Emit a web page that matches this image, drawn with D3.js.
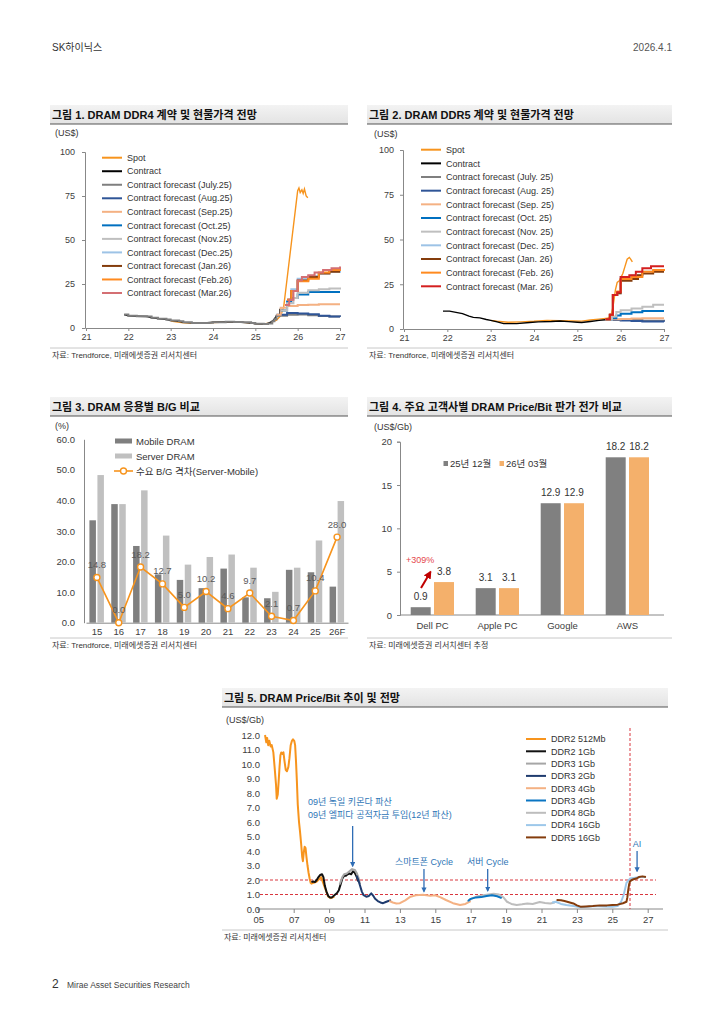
<!DOCTYPE html>
<html>
<head>
<meta charset="utf-8">
<script src="https://cdn.jsdelivr.net/npm/d3@7"></script>
<style>
  body { margin: 0; background: #fff; }
  text { font-family: "Liberation Sans", "Noto Sans CJK KR", sans-serif; }
</style>
</head>
<body>
<svg id="page" width="724" height="1024"></svg>
<script>
// ---------- data: chart 1 / 2 (DDR4, DDR5 price, US$) ----------
const yearTicks = [21, 22, 23, 24, 25, 26, 27];
const priceTicks = [0, 25, 50, 75, 100];

const ddr4Hist = [[21.9,7.6],[22.0,6.9],[22.2,6.7],[22.45,6.5],[22.55,5.8],[22.7,5.3],[22.9,4.8],[23.0,4.3],[23.2,3.8],[23.3,3.2],[23.5,2.9],[23.9,3.0],[24.0,3.3],[24.3,3.5],[24.5,3.4],[24.7,3.2],[24.9,2.8],[25.0,2.4],[25.2,2.3],[25.3,2.6],[25.4,3.8],[25.45,5.0],[25.5,7.0]];
const ddr4ContractEnd = [[25.58,7.2],[25.58,11]];
const ddr4Spot = [[23.0,3.9],[23.3,2.9],[23.8,2.7],[24.0,3.1],[24.5,3.5],[24.9,2.9],[25.0,2.5],[25.2,2.3],[25.35,2.9],[25.5,4.5],[25.6,7],[25.67,12],[25.75,28],[25.85,48],[25.95,68],[26.0,78],[26.03,79.5],[26.06,77],[26.1,78.5],[26.13,76.5],[26.16,79],[26.2,75],[26.24,74]];
const ddr4Jul = [[25.5,7.0],[25.75,7.5],[26.0,7.6],[26.25,7.3],[26.5,6.8],[26.75,6.6],[27.0,6.5]];
const ddr4Aug = [[25.5,7.5],[25.75,8.5],[26.0,8.2],[26.25,7.8],[26.5,7.0],[26.75,6.6],[27.0,6.4]];
const ddr4Sep = [[25.5,7.5],[25.6,11.5],[25.75,12.5],[26.0,13.0],[26.25,13.2],[26.5,13.5],[27.0,13.5]];
const ddr4Oct = [[25.6,10],[25.75,15],[25.85,17],[26.0,19],[26.25,20.5],[26.5,20.5],[27.0,20.5]];
const ddr4Nov = [[25.6,10],[25.75,14],[25.9,17],[26.0,20],[26.25,21.5],[26.5,22],[26.75,22.5],[27.0,23]];
const ddr4Dec = [[25.75,16],[25.85,22],[26.0,28],[26.25,29.5],[26.5,31],[26.75,32],[27.0,32.5]];
const ddr4Jan = [[25.75,16],[25.85,21],[26.0,27],[26.25,29],[26.5,31],[26.75,32],[27.0,32]];
const ddr4Feb = [[25.75,16],[25.85,21],[26.0,26.5],[26.25,28],[26.5,31.5],[26.75,33],[27.0,34]];
const ddr4Mar = [[25.7,13],[25.8,16],[25.9,21],[26.0,27],[26.1,29],[26.25,30],[26.4,31.5],[26.6,33],[26.8,34],[27.0,35]];
const ddr4Labels = ['Spot','Contract','Contract forecast (July.25)','Contract forecast (Aug.25)','Contract forecast (Sep.25)','Contract forecast (Oct.25)','Contract forecast (Nov.25)','Contract forecast (Dec.25)','Contract forecast (Jan.26)','Contract forecast (Feb.26)','Contract forecast (Mar.26)'];

const ddr5Hist = [[21.9,10],[22.05,10],[22.2,9.3],[22.35,8.6],[22.5,7.2],[22.6,6.5],[22.75,6.2],[22.9,5.3],[23.0,4.8],[23.15,4.0],[23.3,3.0],[23.6,3.0],[23.9,3.6],[24.1,4.0],[24.4,4.2],[24.6,4.5],[24.8,4.1],[25.0,3.8],[25.1,3.6],[25.3,4.2],[25.5,4.8],[25.65,5.2]];
const ddr5Spot = [[23.0,4.8],[23.15,4.3],[23.4,3.8],[23.7,4.0],[24.0,4.3],[24.3,4.8],[24.6,4.7],[24.9,4.5],[25.1,4.4],[25.3,5.0],[25.5,5.5],[25.7,6.0],[25.77,7],[25.82,12],[25.88,22],[25.92,26],[25.97,27],[26.0,28.5],[26.05,31],[26.1,35],[26.15,39],[26.2,40],[26.23,39],[26.27,37.5]];
const ddr5Jul = [[25.65,5.2],[25.75,5.0],[26.0,5.0],[26.5,4.6],[27.0,4.5]];
const ddr5Aug = [[25.65,5.2],[26.0,4.8],[26.25,4.5],[26.5,4.2],[27.0,4.0]];
const ddr5Sep = [[25.65,5.2],[25.75,5.5],[26.0,5.6],[26.25,5.8],[26.5,6.0],[27.0,6.0]];
const ddr5Oct = [[25.65,5.2],[25.8,6],[25.9,7.5],[26.0,8.5],[26.25,9.3],[26.5,10],[27.0,10]];
const ddr5Nov = [[25.65,5.2],[25.8,7],[25.9,9.5],[26.0,10.5],[26.25,11.5],[26.5,12.5],[26.75,13.5],[27.0,13.5]];
const ddr5Dec = [[25.65,5.5],[25.75,8],[25.82,19],[25.92,20],[26.0,29],[26.25,30],[26.5,32],[26.75,33],[27.0,33]];
const ddr5Jan = [[25.65,5.5],[25.75,8],[25.82,19],[25.92,20],[26.0,27],[26.25,28],[26.4,30],[26.5,31],[26.75,32],[27.0,32]];
const ddr5Feb = [[25.65,5.5],[25.75,8],[25.82,19],[25.92,21],[26.0,28],[26.25,29],[26.5,32],[26.75,33],[27.0,33.5]];
const ddr5Mar = [[25.65,5.5],[25.75,8],[25.82,19],[25.92,20.5],[26.0,29],[26.2,30],[26.35,32],[26.5,34],[26.7,35],[27.0,35]];
const ddr5Labels = ['Spot','Contract','Contract forecast (July. 25)','Contract forecast (Aug. 25)','Contract forecast (Sep. 25)','Contract forecast (Oct. 25)','Contract forecast (Nov. 25)','Contract forecast (Dec. 25)','Contract forecast (Jan. 26)','Contract forecast (Feb. 26)','Contract forecast (Mar. 26)'];

// ---------- data: chart 3 (B/G %) ----------
const bgYears = ['15','16','17','18','19','20','21','22','23','24','25','26F'];
const bgMobile = [33.5, 38.8, 25.1, 15.8, 14.0, 11.3, 17.7, 8.3, 8.0, 17.3, 16.5, 11.8];
const bgServer = [48.3, 38.8, 43.3, 28.5, 19.0, 21.5, 22.3, 18.0, 10.1, 18.0, 26.9, 39.8];
const bgGap = [14.8, 0.0, 18.2, 12.7, 5.0, 10.2, 4.6, 9.7, 2.1, 0.7, 10.4, 28.0];
const bgTicks = [0, 10, 20, 30, 40, 50, 60];

// ---------- data: chart 4 (price/bit by customer) ----------
const custNames = ['Dell PC', 'Apple PC', 'Google', 'AWS'];
const custDec25 = [0.9, 3.1, 12.9, 18.2];
const custMar26 = [3.8, 3.1, 12.9, 18.2];
const custTicks = [0, 5, 10, 15, 20];

// ---------- data: chart 5 (price/bit history) ----------
const pbTicksY = [0,1,2,3,4,5,6,7,8,9,10,11,12];
const pbTicksX = [5,7,9,11,13,15,17,19,21,23,25,27];
const ddr2_512 = [[5.38,12.0],[5.45,11.5],[5.5,11.8],[5.56,11.3],[5.62,11.6],[5.7,11.2],[5.76,11.3],[5.85,10.8],[5.92,9.8],[6.0,8.6],[6.04,7.6],[6.1,7.9],[6.15,8.8],[6.2,9.8],[6.25,10.6],[6.3,10.8],[6.36,10.7],[6.42,10.8],[6.48,10.2],[6.55,9.6],[6.62,9.5],[6.7,9.8],[6.76,10.4],[6.83,11.3],[6.9,11.6],[6.96,11.7],[7.03,11.6],[7.08,11.3],[7.13,10.2],[7.18,8.8],[7.23,7.2],[7.3,6.0],[7.36,5.3],[7.42,4.5],[7.48,3.6],[7.52,3.3],[7.57,3.9],[7.62,4.3],[7.67,4.2],[7.72,3.6],[7.78,3.0],[7.84,2.5],[7.9,2.1],[7.96,1.8],[8.0,1.75],[8.3,1.9],[8.55,2.2],[8.75,1.5],[8.95,0.85],[9.1,0.75],[9.3,0.85]];
const ddr2_1g = [[8.0,1.85],[8.1,1.9],[8.2,1.85],[8.3,2.0],[8.4,2.2],[8.5,2.35],[8.6,2.4],[8.68,2.2],[8.76,1.6],[8.85,1.2],[8.95,0.9],[9.05,0.8],[9.15,0.8],[9.3,0.95],[9.45,1.1],[9.55,1.3],[9.65,1.7],[9.75,2.1],[9.85,2.3],[9.95,2.3],[10.05,2.4],[10.15,2.45],[10.25,2.4],[10.35,2.6],[10.45,2.5],[10.55,2.25],[10.65,1.9]];
const ddr3_1g = [[9.6,1.7],[9.75,2.2],[9.85,2.4],[10.0,2.45],[10.15,2.6],[10.3,2.75],[10.45,2.7],[10.55,2.5],[10.65,2.2],[10.75,1.7]];
const ddr3_2g = [[10.55,2.3],[10.65,2.0],[10.75,1.6],[10.85,1.2],[10.95,0.95],[11.1,0.85],[11.25,0.9],[11.38,1.08],[11.5,0.9],[11.6,0.7],[11.75,0.55],[11.9,0.45],[12.05,0.4],[12.2,0.48],[12.35,0.55],[12.5,0.6]];
const ddr3_4g_a = [[12.4,0.55],[12.6,0.45],[12.8,0.38],[13.0,0.4],[13.3,0.6],[13.6,0.85],[13.9,0.95],[14.3,0.98],[14.7,0.92],[15.0,0.95],[15.3,0.8],[15.6,0.62],[16.0,0.4],[16.4,0.28],[16.7,0.35],[17.0,0.55]];
const ddr3_4g_b = [[16.85,0.55],[17.0,0.7],[17.3,0.8],[17.6,0.82],[17.9,0.9],[18.2,0.95],[18.5,0.88],[18.75,0.75]];
const ddr4_8g = [[16.8,0.5],[17.1,0.75],[17.4,0.88],[17.7,0.95],[18.0,1.0],[18.3,1.05],[18.6,1.0],[18.85,0.8],[19.05,0.5],[19.3,0.35],[19.6,0.28],[19.9,0.32],[20.2,0.38],[20.5,0.35],[20.9,0.48],[21.2,0.42],[21.5,0.38],[21.75,0.45]];
const ddr4_16g = [[21.6,0.45],[21.8,0.5],[22.1,0.35],[22.4,0.28],[22.8,0.2],[23.2,0.12],[23.6,0.15],[24.0,0.2],[24.5,0.18],[25.0,0.16],[25.3,0.2],[25.5,0.5],[25.65,1.0],[25.8,1.8],[26.0,2.1],[26.3,2.15],[26.6,2.2],[26.9,2.2]];
const ddr5_16g = [[21.85,0.62],[22.1,0.6],[22.3,0.55],[22.6,0.45],[22.8,0.38],[23.0,0.25],[23.2,0.16],[23.5,0.18],[23.9,0.2],[24.3,0.25],[24.7,0.25],[25.0,0.28],[25.3,0.3],[25.6,0.4],[25.8,0.5],[25.85,0.8],[25.9,1.3],[25.95,1.7],[26.0,1.9],[26.1,2.0],[26.2,2.05],[26.35,2.1],[26.5,2.2],[26.7,2.25],[26.9,2.2]];
const pbLabels = ['DDR2 512Mb','DDR2 1Gb','DDR3 1Gb','DDR3 2Gb','DDR3 4Gb','DDR3 4Gb','DDR4 8Gb','DDR4 16Gb','DDR5 16Gb'];
const pbRefLines = [1, 2];
const pbAiYear = 26;

// ---------- page ----------
const svg = d3.select('#page');
svg.append('rect').attr('width', 724).attr('height', 1024).attr('fill', '#fff');

const defs = svg.append('defs');
const grad = defs.append('linearGradient').attr('id', 'tbar').attr('x1', 0).attr('y1', 0).attr('x2', 0).attr('y2', 1);
grad.append('stop').attr('offset', '0%').attr('stop-color', '#f3f3f3');
grad.append('stop').attr('offset', '100%').attr('stop-color', '#e3e3e3');

function arrowMarker(id, color) {
  defs.append('marker').attr('id', id).attr('viewBox', '0 0 10 10').attr('refX', 8).attr('refY', 5)
    .attr('markerWidth', 4).attr('markerHeight', 4).attr('orient', 'auto')
    .append('path').attr('d', 'M0,0L10,5L0,10z').attr('fill', color);
}
arrowMarker('arrRed', '#c00000');
arrowMarker('arrBlue', '#2f6db5');

// header / footer
svg.append('text').attr('x', 52).attr('y', 51).attr('font-size', 10).attr('fill', '#333').text('SK하이닉스');
svg.append('text').attr('x', 672).attr('y', 51).attr('font-size', 10).attr('fill', '#555').attr('text-anchor', 'end').text('2026.4.1');
svg.append('text').attr('x', 52).attr('y', 988).attr('font-size', 12).attr('fill', '#333').text('2');
svg.append('text').attr('x', 67).attr('y', 988).attr('font-size', 8.5).attr('fill', '#444').text('Mirae Asset Securities Research');

function titleBar(x, y, w, label) {
  svg.append('rect').attr('x', x).attr('y', y).attr('width', w).attr('height', 19).attr('fill', 'url(#tbar)');
  svg.append('line').attr('x1', x).attr('x2', x + w).attr('y1', y + 19).attr('y2', y + 19)
    .attr('stroke', '#555').attr('stroke-width', 1.2);
  svg.append('text').attr('x', x + 2).attr('y', y + 14).attr('font-size', 11).attr('font-weight', 'bold')
    .attr('fill', '#111').text(label);
}

function sourceNote(x, y, w, label) {
  svg.append('line').attr('x1', x).attr('x2', x + w).attr('y1', y).attr('y2', y).attr('stroke', '#c8c8c8');
  svg.append('text').attr('x', x + 2).attr('y', y + 10).attr('font-size', 8).attr('fill', '#333').text(label);
}

function styleAxis(g, size) {
  g.select('.domain').attr('stroke', '#888');
  g.selectAll('.tick line').attr('stroke', '#888');
  g.selectAll('.tick text').attr('fill', '#404040').attr('font-size', size || 9)
    .style('font-family', '"Liberation Sans","Noto Sans CJK KR",sans-serif');
}

// ---------- charts 1 & 2 ----------
const fcstColors = ['#f7941d', '#000000', '#7f7f7f', '#2f5597', '#f4b183', '#0070c0', '#bfbfbf', '#9dc3e6', '#843c0c', '#ff8a1f'];

function priceChart(cfg) {
  const x = d3.scaleLinear().domain([21, 27]).range(cfg.xr);
  const y = d3.scaleLinear().domain([0, 100]).range(cfg.yr);

  const ax = svg.append('g').attr('transform', `translate(0,${cfg.yr[0]})`)
    .call(d3.axisBottom(x).tickValues(yearTicks).tickSize(3).tickPadding(3).tickFormat(d => d));
  styleAxis(ax);
  const ay = svg.append('g').attr('transform', `translate(${cfg.xr[0] - 1},0)`)
    .call(d3.axisLeft(y).tickValues(priceTicks).tickSize(3).tickPadding(cfg.pad));
  styleAxis(ay);

  svg.append('text').attr('x', cfg.unitX).attr('y', cfg.unitY).attr('font-size', 9).attr('fill', '#333').text('(US$)');

  const colors = fcstColors.concat([cfg.marColor]);
  cfg.series.forEach((s, i) => {
    const curve = i < 2 ? d3.curveLinear : d3.curveStepAfter;
    svg.append('path').datum(s)
      .attr('fill', 'none').attr('stroke', colors[i])
      .attr('stroke-width', i < 2 ? 1.4 : 2)
      .attr('d', d3.line().curve(curve).x(d => x(d[0])).y(d => y(d[1])));
  });

  cfg.labels.forEach((lab, i) => {
    const yy = cfg.legY + i * cfg.legStep;
    svg.append('line').attr('x1', cfg.legX).attr('x2', cfg.legX + 20).attr('y1', yy).attr('y2', yy)
      .attr('stroke', colors[i]).attr('stroke-width', 2);
    svg.append('text').attr('x', cfg.legX + 25).attr('y', yy + 3.2).attr('font-size', 9).attr('fill', '#333').text(lab);
  });
}

titleBar(50, 105, 298, '그림 1. DRAM DDR4 계약 및 현물가격 전망');
priceChart({
  xr: [86, 340], yr: [328, 152], pad: 7, unitX: 55, unitY: 136,
  legX: 102, legY: 157.7, legStep: 13.53, marColor: '#d46f73',
  labels: ddr4Labels,
  series: [ddr4Spot, ddr4Hist.concat(ddr4ContractEnd), ddr4Hist.concat(ddr4Jul), ddr4Aug, ddr4Sep, ddr4Oct, ddr4Nov, ddr4Dec, ddr4Jan, ddr4Feb, ddr4Mar]
});
sourceNote(50, 348, 298, '자료: Trendforce, 미래에셋증권 리서치센터');

titleBar(367, 105, 305, '그림 2. DRAM DDR5 계약 및 현물가격 전망');
priceChart({
  xr: [404, 664], yr: [329, 150], pad: 6, unitX: 374, unitY: 137,
  legX: 421, legY: 149.7, legStep: 13.66, marColor: '#d41f1f',
  labels: ddr5Labels,
  series: [ddr5Spot, ddr5Hist, ddr5Jul, ddr5Aug, ddr5Sep, ddr5Oct, ddr5Nov, ddr5Dec, ddr5Jan, ddr5Feb, ddr5Mar]
});
sourceNote(367, 348, 305, '자료: Trendforce, 미래에셋증권 리서치센터');

// ---------- chart 3 ----------
titleBar(50, 397, 298, '그림 3. DRAM 응용별 B/G 비교');
{
  const x = d3.scaleBand().domain(bgYears).range([86, 348]);
  const y = d3.scaleLinear().domain([0, 60]).range([622.7, 439.3]);
  const ax = svg.append('g').attr('transform', 'translate(0,622.7)')
    .call(d3.axisBottom(x).tickSize(0).tickPadding(6));
  styleAxis(ax, 9.5);
  const ay = svg.append('g').attr('transform', 'translate(84,0)')
    .call(d3.axisLeft(y).tickValues(bgTicks).tickSize(0).tickPadding(9).tickFormat(d3.format('.1f')));
  styleAxis(ay, 9.5);
  svg.append('text').attr('x', 55).attr('y', 428.5).attr('font-size', 9).attr('fill', '#333').text('(%)');

  const cx = d => x(d) + x.bandwidth() / 2;
  svg.append('g').selectAll('rect').data(bgYears).join('rect')
    .attr('x', d => cx(d) - 7.5).attr('width', 6.5)
    .attr('y', (d, i) => y(bgMobile[i])).attr('height', (d, i) => y(0) - y(bgMobile[i]))
    .attr('fill', '#7f7f7f');
  svg.append('g').selectAll('rect').data(bgYears).join('rect')
    .attr('x', d => cx(d) + 0.5).attr('width', 6.5)
    .attr('y', (d, i) => y(bgServer[i])).attr('height', (d, i) => y(0) - y(bgServer[i]))
    .attr('fill', '#c0c0c0');

  svg.append('path').datum(bgYears)
    .attr('fill', 'none').attr('stroke', '#f7941d').attr('stroke-width', 1.6)
    .attr('d', d3.line().x(d => cx(d)).y((d, i) => y(bgGap[i])));
  svg.append('g').selectAll('circle').data(bgYears).join('circle')
    .attr('cx', d => cx(d)).attr('cy', (d, i) => y(bgGap[i])).attr('r', 3)
    .attr('fill', '#fff').attr('stroke', '#f7941d').attr('stroke-width', 1.4);
  svg.append('g').selectAll('text').data(bgYears).join('text')
    .attr('x', d => cx(d)).attr('y', (d, i) => y(bgGap[i]) - 9.5)
    .attr('text-anchor', 'middle').attr('font-size', 9.5).attr('fill', '#595959')
    .text((d, i) => bgGap[i].toFixed(1));

  // legend
  const leg = [['Mobile DRAM', '#7f7f7f'], ['Server DRAM', '#c0c0c0']];
  leg.forEach((l, i) => {
    svg.append('rect').attr('x', 115).attr('y', 438.5 + i * 15).attr('width', 17).attr('height', 5).attr('fill', l[1]);
    svg.append('text').attr('x', 136).attr('y', 444.5 + i * 15).attr('font-size', 9.5).attr('fill', '#333').text(l[0]);
  });
  svg.append('line').attr('x1', 114).attr('x2', 133).attr('y1', 471).attr('y2', 471).attr('stroke', '#f7941d').attr('stroke-width', 1.6);
  svg.append('circle').attr('cx', 123.5).attr('cy', 471).attr('r', 3).attr('fill', '#fff').attr('stroke', '#f7941d').attr('stroke-width', 1.4);
  svg.append('text').attr('x', 136).attr('y', 474.5).attr('font-size', 9.5).attr('fill', '#333').text('수요 B/G 격차(Server-Mobile)');
}
sourceNote(50, 638, 298, '자료: Trendforce, 미래에셋증권 리서치센터');

// ---------- chart 4 ----------
titleBar(367, 397, 305, '그림 4. 주요 고객사별 DRAM Price/Bit 판가 전가 비교');
{
  const x = d3.scaleBand().domain(custNames).range([400, 660]);
  const y = d3.scaleLinear().domain([0, 20]).range([615, 441.7]);
  const ax = svg.append('g').attr('transform', 'translate(0,615)')
    .call(d3.axisBottom(x).tickSize(0).tickPadding(7));
  ax.select('.domain').attr('d', 'M0,0H663');
  styleAxis(ax, 9.5);
  ax.select('.domain').attr('d', 'M400,0H664');
  const ay = svg.append('g').attr('transform', 'translate(400,0)')
    .call(d3.axisLeft(y).tickValues(custTicks).tickSize(3).tickPadding(5));
  styleAxis(ay, 9.5);
  svg.append('text').attr('x', 374).attr('y', 430).attr('font-size', 9).attr('fill', '#333').text('(US$/Gb)');

  const cx = d => x(d) + x.bandwidth() / 2;
  const groups = [[custDec25, '#808080', -21.8], [custMar26, '#f4b06b', 1.5]];
  groups.forEach(([vals, col, off]) => {
    svg.append('g').selectAll('rect').data(custNames).join('rect')
      .attr('x', d => cx(d) + off).attr('width', 20)
      .attr('y', (d, i) => y(vals[i])).attr('height', (d, i) => y(0) - y(vals[i]))
      .attr('fill', col);
    svg.append('g').selectAll('text').data(custNames).join('text')
      .attr('x', d => cx(d) + off + 10).attr('y', (d, i) => y(vals[i]) - 7)
      .attr('text-anchor', 'middle').attr('font-size', 10).attr('fill', '#333')
      .text((d, i) => vals[i].toFixed(1));
  });

  svg.append('rect').attr('x', 443.5).attr('y', 461).attr('width', 4.5).attr('height', 5).attr('fill', '#808080');
  svg.append('text').attr('x', 450).attr('y', 467).attr('font-size', 9.5).attr('fill', '#333').text('25년 12월');
  svg.append('rect').attr('x', 499.5).attr('y', 461).attr('width', 4.5).attr('height', 5).attr('fill', '#f4b06b');
  svg.append('text').attr('x', 506).attr('y', 467).attr('font-size', 9.5).attr('fill', '#333').text('26년 03월');

  svg.append('text').attr('x', 406).attr('y', 562.5).attr('font-size', 9).attr('fill', '#e5484d').text('+309%');
  svg.append('line').attr('x1', cx('Dell PC') - 11.5).attr('y1', 588).attr('x2', cx('Dell PC') - 2).attr('y2', 572)
    .attr('stroke', '#c00000').attr('stroke-width', 2).attr('marker-end', 'url(#arrRed)');
}
sourceNote(367, 638, 305, '자료: 미래에셋증권 리서치센터 추정');

// ---------- chart 5 ----------
titleBar(222, 688, 446, '그림 5. DRAM Price/Bit 추이 및 전망');
{
  const x = d3.scaleLinear().domain([5, 27]).range([258.3, 647.7]);
  const y = d3.scaleLinear().domain([0, 12]).range([909, 735]);
  const ax = svg.append('g').attr('transform', 'translate(0,909)')
    .call(d3.axisBottom(x).tickValues(pbTicksX).tickSize(4).tickPadding(3).tickFormat(d => String(d).padStart(2, '0')));
  styleAxis(ax, 9.5);
  ax.select('.domain').attr('d', 'M257,0H663');
  const ay = svg.append('g').attr('transform', 'translate(265,0)')
    .call(d3.axisLeft(y).tickValues(pbTicksY).tickSize(0).tickPadding(5).tickFormat(d3.format('.1f')));
  styleAxis(ay, 9.5);
  ay.select('.domain').remove();
  svg.append('text').attr('x', 226).attr('y', 722.5).attr('font-size', 9).attr('fill', '#333').text('(US$/Gb)');

  // reference lines
  pbRefLines.forEach(v => {
    svg.append('line').attr('x1', 260).attr('x2', 656).attr('y1', y(v)).attr('y2', y(v))
      .attr('stroke', '#d9363e').attr('stroke-width', 1).attr('stroke-dasharray', '3,2');
  });
  svg.append('line').attr('x1', x(pbAiYear)).attr('x2', x(pbAiYear)).attr('y1', 728).attr('y2', 909)
    .attr('stroke', '#d9363e').attr('stroke-width', 1).attr('stroke-dasharray', '3,2');

  const pbSeries = [ddr2_512, ddr2_1g, ddr3_1g, ddr3_2g, ddr3_4g_a, ddr3_4g_b, ddr4_8g, ddr4_16g, ddr5_16g];
  const pbColors = ['#f7941d', '#111111', '#a6a6a6', '#1f3b6e', '#f4b183', '#0a75c2', '#bdbdbd', '#9dc8ea', '#843c0c'];
  const drawOrder = [0, 1, 2, 3, 4, 6, 5, 7, 8];
  drawOrder.forEach(i => {
    svg.append('path').datum(pbSeries[i])
      .attr('fill', 'none').attr('stroke', pbColors[i]).attr('stroke-width', 2)
      .attr('stroke-linejoin', 'round')
      .attr('d', d3.line().x(d => x(d[0])).y(d => y(d[1])));
  });

  pbLabels.forEach((lab, i) => {
    const yy = 739 + i * 12.3;
    svg.append('line').attr('x1', 526).attr('x2', 546).attr('y1', yy).attr('y2', yy)
      .attr('stroke', pbColors[i]).attr('stroke-width', 2);
    svg.append('text').attr('x', 551).attr('y', yy + 3.3).attr('font-size', 9).attr('fill', '#333').text(lab);
  });

  // annotations
  const blue = '#2e75b6';
  svg.append('text').attr('x', 308).attr('y', 805).attr('font-size', 9).attr('fill', blue).text('09년 독일 키몬다 파산');
  svg.append('text').attr('x', 308).attr('y', 818).attr('font-size', 9).attr('fill', blue).text('09년 엘피다 공적자금 투입(12년 파산)');
  const arrows = [
    { yr: 10.33, from: 826, to: y(2.95) },
    { yr: 14.36, from: 869, to: y(1.2) },
    { yr: 17.96, from: 869, to: y(1.25) },
    { yr: 26.4, from: 851, to: y(2.6) }
  ];
  arrows.forEach(a => {
    svg.append('line').attr('x1', x(a.yr)).attr('x2', x(a.yr)).attr('y1', a.from).attr('y2', a.to)
      .attr('stroke', '#2f6db5').attr('stroke-width', 1.3).attr('marker-end', 'url(#arrBlue)');
  });
  svg.append('text').attr('x', x(14.36)).attr('y', 865).attr('text-anchor', 'middle').attr('font-size', 9).attr('fill', blue).text('스마트폰 Cycle');
  svg.append('text').attr('x', x(17.96)).attr('y', 865).attr('text-anchor', 'middle').attr('font-size', 9).attr('fill', blue).text('서버 Cycle');
  svg.append('text').attr('x', x(26.4)).attr('y', 847).attr('text-anchor', 'middle').attr('font-size', 9).attr('fill', blue).text('AI');
}
sourceNote(222, 930, 446, '자료: 미래에셋증권 리서치센터');
</script>
</body>
</html>
